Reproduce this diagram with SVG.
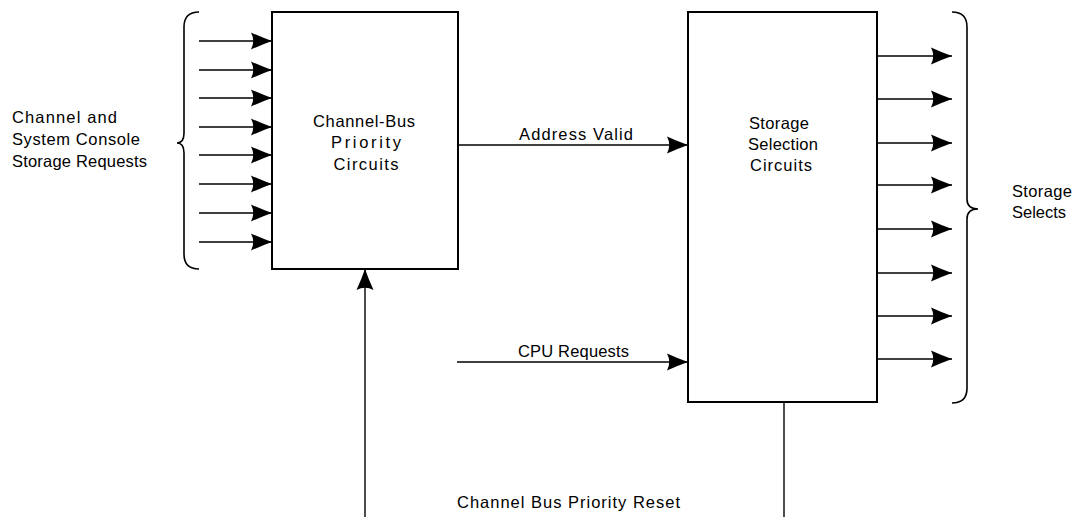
<svg xmlns="http://www.w3.org/2000/svg" width="1075" height="517" viewBox="0 0 1075 517">
<style>
.box{fill:#fff;stroke:#000;stroke-width:2}
.ln{fill:none;stroke:#000;stroke-width:1.4}
.arr{fill:none;stroke:#000;stroke-width:1.4;marker-end:url(#ah)}
.br{fill:none;stroke:#000;stroke-width:1.6}
text{font-family:"Liberation Sans",Arial,sans-serif;font-size:16.5px;fill:#000}
.c{text-anchor:middle}
</style>
<defs>
<marker id="ah" viewBox="-22 -9 23 18" refX="0" refY="0" markerWidth="23" markerHeight="18" markerUnits="userSpaceOnUse" orient="auto">
<path d="M0,0 Q-10,-3.5 -21,-8.5 Q-16.5,0 -21,8.5 Q-10,3.5 0,0 Z" fill="#000"/>
</marker>
</defs>
<rect width="1075" height="517" fill="#fff"/>
<g id="connectors">
<line class="arr" x1="199" y1="41" x2="272" y2="41"/>
<line class="arr" x1="199" y1="70" x2="272" y2="70"/>
<line class="arr" x1="199" y1="98" x2="272" y2="98"/>
<line class="arr" x1="199" y1="127" x2="272" y2="127"/>
<line class="arr" x1="199" y1="155" x2="272" y2="155"/>
<line class="arr" x1="199" y1="184" x2="272" y2="184"/>
<line class="arr" x1="199" y1="213" x2="272" y2="213"/>
<line class="arr" x1="199" y1="242" x2="272" y2="242"/>
<line class="arr" x1="458" y1="145" x2="688" y2="145"/>
<line class="arr" x1="457" y1="362" x2="688" y2="362"/>
<line class="arr" x1="365" y1="517" x2="365" y2="269"/>
<line class="ln" x1="784" y1="402" x2="784" y2="517"/>
<line class="arr" x1="877" y1="56" x2="952" y2="56"/>
<line class="arr" x1="877" y1="99" x2="952" y2="99"/>
<line class="arr" x1="877" y1="143" x2="952" y2="143"/>
<line class="arr" x1="877" y1="185" x2="952" y2="185"/>
<line class="arr" x1="877" y1="229" x2="952" y2="229"/>
<line class="arr" x1="877" y1="273" x2="952" y2="273"/>
<line class="arr" x1="877" y1="316" x2="952" y2="316"/>
<line class="arr" x1="877" y1="359" x2="952" y2="359"/>
<path class="br" d="M199,12 Q184,12 184,27 L184,133 Q184,143 177,143 Q184,143 184,153 L184,254 Q184,269 199,269"/>
<path class="br" d="M952,12 Q967,12 967,27 L967,199 Q967,209 978,209 Q967,209 967,219 L967,388 Q967,403 952,403"/>
</g>
<g id="label-left">
<text x="12" y="123" textLength="105" lengthAdjust="spacing">Channel and</text>
<text x="12" y="145" textLength="128" lengthAdjust="spacing">System Console</text>
<text x="12" y="167" textLength="135" lengthAdjust="spacing">Storage Requests</text>
</g>
<g id="node-priority">
<rect class="box" x="272" y="12" width="186" height="257"/>
<text class="c" x="364" y="127" textLength="102" lengthAdjust="spacing">Channel-Bus</text>
<text class="c" x="366" y="148" textLength="70" lengthAdjust="spacing">Priority</text>
<text class="c" x="366" y="170" textLength="65" lengthAdjust="spacing">Circuits</text>
</g>
<g id="node-selection">
<rect class="box" x="688" y="12" width="189" height="390"/>
<text class="c" x="779" y="129" textLength="60" lengthAdjust="spacing">Storage</text>
<text class="c" x="783" y="150" textLength="70" lengthAdjust="spacing">Selection</text>
<text class="c" x="781" y="171" textLength="62" lengthAdjust="spacing">Circuits</text>
</g>
<g id="labels">
<text x="519" y="140" textLength="114" lengthAdjust="spacing">Address Valid</text>
<text x="518" y="357" textLength="111" lengthAdjust="spacing">CPU Requests</text>
<text x="457" y="508" textLength="223" lengthAdjust="spacing">Channel Bus Priority Reset</text>
<text x="1012" y="197" textLength="60" lengthAdjust="spacing">Storage</text>
<text x="1012" y="218" textLength="54" lengthAdjust="spacing">Selects</text>
</g>
</svg>
